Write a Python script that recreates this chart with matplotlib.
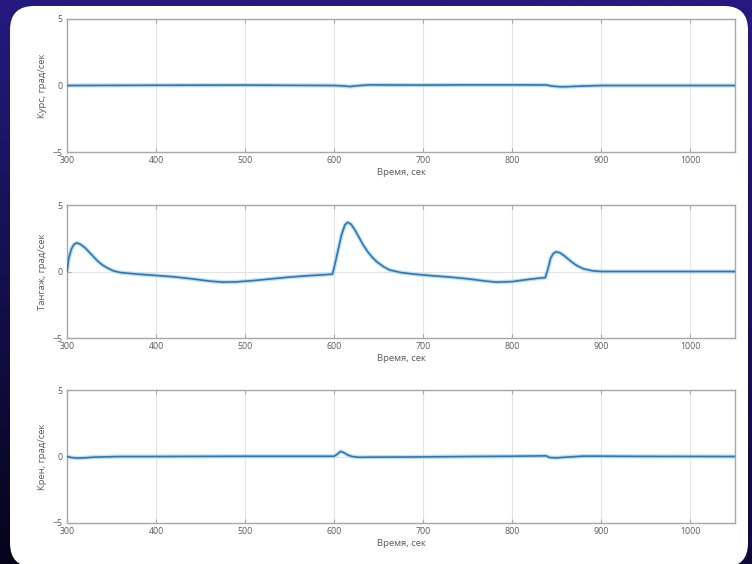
import numpy as np
import matplotlib
matplotlib.use('Agg')
import matplotlib.pyplot as plt
from matplotlib.patches import FancyBboxPatch

plt.rcParams['font.family'] = ['Open Sans', 'DejaVu Sans']

# Time axis ticks
x_ticks = [300, 400, 500, 600, 700, 800, 900, 1000]
y_ticks = [-5, 0, 5]
x_label = 'Время, сек'

# Курс (yaw rate)
yaw_t = [300, 400, 500, 600, 610, 618, 625, 640, 660, 700, 750, 800, 838,
         845, 855, 865, 880, 900, 1000, 1050]
yaw_v = [0.0, 0.02, 0.03, 0.0, -0.03, -0.08, -0.02, 0.05, 0.04, 0.03, 0.05,
         0.05, 0.04, -0.05, -0.1, -0.08, -0.04, 0.0, 0.0, 0.0]

# Тангаж (pitch rate)
pitch_t = [300, 302, 305, 308, 311, 315, 320, 325, 330, 335, 340, 345, 352,
           360, 380, 400, 420, 440, 460, 475, 490, 510, 530, 550, 570, 585,
           598, 600, 604, 608, 612, 615, 619, 623, 628, 633, 638, 643, 648,
           655, 662, 675, 690, 710, 730, 750, 770, 782, 800, 815, 830, 837,
           840, 843, 846, 849, 853, 858, 863, 868, 873, 880, 890, 900, 950,
           1000, 1050]
pitch_v = [0.0, 1.0, 1.7, 2.05, 2.15, 2.05, 1.8, 1.45, 1.1, 0.75, 0.48,
           0.28, 0.05, -0.08, -0.2, -0.3, -0.4, -0.55, -0.72, -0.8, -0.78,
           -0.68, -0.55, -0.42, -0.32, -0.26, -0.2, 0.3, 1.5, 2.7, 3.5, 3.7,
           3.55, 3.15, 2.55, 1.95, 1.45, 1.05, 0.72, 0.38, 0.12, -0.08, -0.2,
           -0.32, -0.42, -0.55, -0.72, -0.8, -0.76, -0.62, -0.5, -0.46, 0.2,
           1.0, 1.35, 1.48, 1.42, 1.2, 0.92, 0.65, 0.42, 0.2, 0.05, 0.0, 0.0,
           0.0, 0.0]

# Крен (roll rate)
roll_t = [300, 305, 312, 320, 330, 360, 400, 500, 600, 603, 607, 610, 615,
          620, 628, 640, 680, 750, 800, 838, 842, 850, 860, 880, 950, 1050]
roll_v = [0.0, -0.08, -0.12, -0.1, -0.05, 0.0, 0.0, 0.02, 0.02, 0.15, 0.38,
          0.32, 0.12, 0.0, -0.06, -0.05, -0.04, 0.0, 0.02, 0.05, -0.08, -0.1,
          -0.05, 0.03, 0.01, 0.0]

panels = [
    ('Курс, град/сек', yaw_t, yaw_v),
    ('Тангаж, град/сек', pitch_t, pitch_v),
    ('Крен, град/сек', roll_t, roll_v),
]

fig = plt.figure(figsize=(7.52, 5.64), dpi=100)

# Background: dark gradient and white rounded panel (pixel coordinates)
bg = fig.add_axes([0, 0, 1, 1])
yy, xx = np.mgrid[0:1:200j, 0:1:200j]
grad = 0.55 * yy + 0.25 * (1 - xx) * yy
bg.imshow(grad, extent=[0, 752, 564, 0], aspect='auto',
          cmap=matplotlib.colors.LinearSegmentedColormap.from_list(
              'bg', ['#26197f', '#05041a']), vmin=0, vmax=0.8)
bg.add_patch(FancyBboxPatch((10, 6), 738, 561,
                            boxstyle='round,pad=0,rounding_size=24',
                            facecolor='white', edgecolor='none'))
bg.set_xlim(0, 752)
bg.set_ylim(564, 0)
bg.axis('off')

ax_tops = [19, 205, 390]
ax_h = 133
for (ylab, t, v), top in zip(panels, ax_tops):
    ax = fig.add_axes([67 / 752, 1 - (top + ax_h) / 564, 668 / 752, ax_h / 564])
    ax.set_facecolor('white')
    ax.plot(t, v, color='#b3d6ef', linewidth=3.0, solid_capstyle='round',
            alpha=0.8, zorder=2)
    ax.plot(t, v, color='#2c78b6', linewidth=1.2, zorder=3)
    ax.set_xlim(300, 1050)
    ax.set_ylim(-5, 5)
    ax.set_xticks(x_ticks)
    ax.set_yticks(y_ticks)
    ax.grid(True, color='#e4e4e4', linewidth=0.8)
    ax.set_axisbelow(True)
    for s in ax.spines.values():
        s.set_color('#a8a8a8')
        s.set_linewidth(1.0)
    ax.tick_params(direction='in', length=3, width=0.8, color='#a8a8a8',
                   labelsize=6.3, labelcolor='#5a5a5a', pad=3,
                   top=True, right=True)
    ax.set_xlabel(x_label, fontsize=6.8, color='#5a5a5a', labelpad=2)
    ax.set_ylabel(ylab, fontsize=6.8, color='#5a5a5a', labelpad=4)

plt.savefig('out.png', dpi=100)
